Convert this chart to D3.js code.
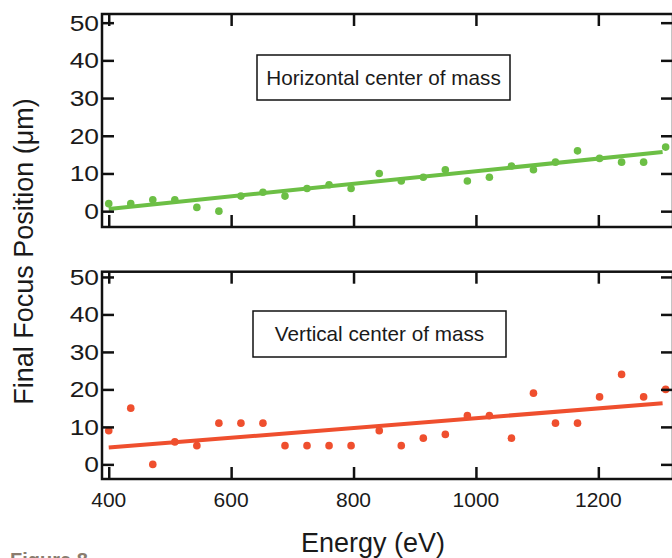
<!DOCTYPE html>
<html>
<head>
<meta charset="utf-8">
<script src="https://cdn.jsdelivr.net/npm/d3@7"></script>
<style>
  html, body { margin: 0; padding: 0; background: #fff; }
  svg { display: block; }
  text { font-family: "Liberation Sans", Arial, Helvetica, sans-serif; fill: #1a1a1a; }
</style>
</head>
<body>
<svg id="chart" width="672" height="558"></svg>
<script>
// ---- data ----
const energies = [400, 436, 472, 508, 544, 580, 616, 652, 688, 724, 760, 796, 842, 878, 914, 950, 986, 1022, 1058, 1094, 1130, 1166, 1202, 1238, 1274, 1310];
const horizontalCOM = [2, 2, 3, 3, 1, 0, 4, 5, 4, 6, 7, 6, 10, 8, 9, 11, 8, 9, 12, 11, 13, 16, 14, 13, 13, 17];
const verticalCOM = [9, 15, 0, 6, 5, 11, 11, 11, 5, 5, 5, 5, 9, 5, 7, 8, 13, 13, 7, 19, 11, 11, 18, 24, 18, 20];
const horizontalFit = [[400, 0.6], [1305, 15.7]];
const verticalFit = [[400, 4.5], [1305, 16.3]];
const xTicks = [400, 600, 800, 1000, 1200];
const yTicks = [0, 10, 20, 30, 40, 50];
const panelLabels = ["Horizontal center of mass", "Vertical center of mass"];
const xTitle = "Energy (eV)";
const yTitle = "Final Focus Position (\u03bcm)";
const figureLabel = "Figure 8";

const green = "#6cbf45";
const red = "#ef4f2e";

const svg = d3.select("#chart");

const x = d3.scaleLinear().domain([389, 1322]).range([102, 673]);

const panels = [
  { values: horizontalCOM, fit: horizontalFit, color: green, label: panelLabels[0],
    y: d3.scaleLinear().domain([-4.2, 52.3]).range([227, 14]),
    box: { x0: 257, x1: 510, y0: 55, y1: 100 }, showXLabels: false },
  { values: verticalCOM, fit: verticalFit, color: red, label: panelLabels[1],
    y: d3.scaleLinear().domain([-3.9, 51.4]).range([479, 271.7]),
    box: { x0: 253, x1: 506, y0: 311, y1: 357 }, showXLabels: true }
];

const tickLen = 12;
const strokeW = 2.5;

panels.forEach(p => {
  const top = p.y.range()[1], bottom = p.y.range()[0];
  const left = x.range()[0], right = x.range()[1];
  const g = svg.append("g");

  // fit line
  g.append("line")
    .attr("x1", x(p.fit[0][0])).attr("y1", p.y(p.fit[0][1]))
    .attr("x2", x(p.fit[1][0])).attr("y2", p.y(p.fit[1][1]))
    .attr("stroke", p.color).attr("stroke-width", 4);

  // points
  g.selectAll("circle.pt").data(energies.map((e, i) => [e, p.values[i]]))
    .enter().append("circle")
    .attr("cx", d => x(d[0])).attr("cy", d => p.y(d[1]))
    .attr("r", 3.8).attr("fill", p.color);

  // axes (ticks inward)
  const axL = d3.axisRight(p.y).tickValues(yTicks).tickSize(tickLen).tickFormat("");
  const axR = d3.axisLeft(p.y).tickValues(yTicks).tickSize(tickLen).tickFormat("");
  const axT = d3.axisBottom(x).tickValues(xTicks).tickSize(tickLen).tickFormat("");
  const axB = d3.axisTop(x).tickValues(xTicks).tickSize(tickLen).tickFormat("");
  [[axL, `translate(${left},0)`], [axR, `translate(${right},0)`],
   [axT, `translate(0,${top})`], [axB, `translate(0,${bottom})`]].forEach(([ax, tr]) => {
    const a = g.append("g").attr("transform", tr).call(ax);
    a.select(".domain").remove();
    a.selectAll("line").attr("stroke", "#111").attr("stroke-width", strokeW);
  });

  // frame
  g.append("rect")
    .attr("x", left).attr("y", top)
    .attr("width", right - left).attr("height", bottom - top)
    .attr("fill", "none").attr("stroke", "#111").attr("stroke-width", strokeW);

  // y tick labels
  g.selectAll("text.yl").data(yTicks).enter().append("text")
    .attr("transform", d => `translate(99,${p.y(d)}) scale(1.2,1)`)
    .attr("dy", "0.36em")
    .attr("text-anchor", "end")
    .attr("font-size", 22)
    .text(d => d);

  // x tick labels
  if (p.showXLabels) {
    g.selectAll("text.xl").data(xTicks).enter().append("text")
      .attr("x", d => x(d)).attr("y", 506.5)
      .attr("text-anchor", "middle")
      .attr("font-size", 21)
      .text(d => d);
  }

  // annotation box
  g.append("rect")
    .attr("x", p.box.x0).attr("y", p.box.y0)
    .attr("width", p.box.x1 - p.box.x0).attr("height", p.box.y1 - p.box.y0)
    .attr("fill", "#fff").attr("stroke", "#111").attr("stroke-width", 1.5);
  g.append("text")
    .attr("x", (p.box.x0 + p.box.x1) / 2).attr("y", (p.box.y0 + p.box.y1) / 2)
    .attr("dy", "0.36em").attr("text-anchor", "middle")
    .attr("font-size", 20.7)
    .text(p.label);
});

// axis titles
svg.append("text")
  .attr("transform", "translate(33,251.5) rotate(-90)")
  .attr("text-anchor", "middle")
  .attr("font-size", 27)
  .text(yTitle);

svg.append("text")
  .attr("x", 373).attr("y", 552)
  .attr("text-anchor", "middle")
  .attr("font-size", 27)
  .text(xTitle);

svg.append("text")
  .attr("x", 10).attr("y", 567)
  .attr("font-size", 20).attr("font-weight", "bold")
  .style("fill", "#8a7c6e")
  .text(figureLabel);
</script>
</body>
</html>
